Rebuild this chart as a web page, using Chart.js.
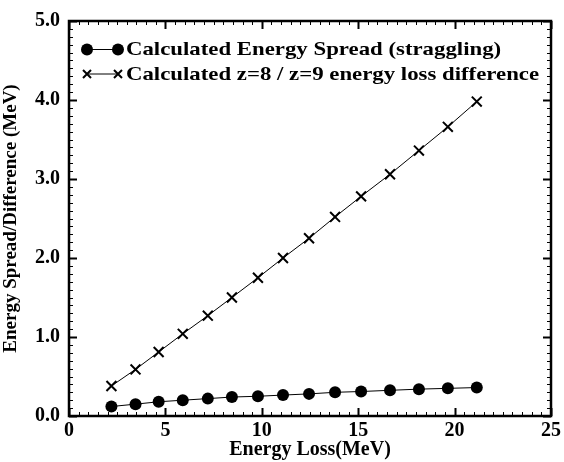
<!DOCTYPE html>
<html>
<head>
<meta charset="utf-8">
<script src="https://cdn.jsdelivr.net/npm/chart.js@4/dist/chart.umd.min.js"></script>
<style>
  html, body { margin: 0; padding: 0; background: #fff; }
  #wrap { width: 564px; height: 462px; }
</style>
</head>
<body>
<div id="wrap"><canvas id="lossCtx"></canvas></div>
<script>
// energy loss (MeV), shared by both series
const energyLoss = [2.2, 3.45, 4.65, 5.9, 7.2, 8.45, 9.8, 11.1, 12.45, 13.8, 15.15, 16.65, 18.15, 19.65, 21.15];
// calculated energy spread (straggling)
const spreadValues = [0.12, 0.15, 0.18, 0.20, 0.22, 0.24, 0.25, 0.265, 0.28, 0.30, 0.31, 0.325, 0.34, 0.35, 0.36];
// calculated z=8 / z=9 energy loss difference
const diffValues = [0.38, 0.59, 0.81, 1.04, 1.27, 1.50, 1.75, 2.00, 2.25, 2.52, 2.78, 3.06, 3.36, 3.66, 3.98];

const xTicks = [0, 5, 10, 15, 20, 25];
const yTicks = [0, 1, 2, 3, 4, 5];

const serif = "'Liberation Serif', 'Times New Roman', serif";

function toPoints(xs, ys) {
    return xs.map((x, i) => ({ x: x, y: ys[i] }));
}

// draws inward ticks on all four sides + the frame
const frameTicks = {
    id: 'frameTicks',
    afterDraw(chart) {
        const ctx = chart.ctx;
        const a = chart.chartArea;
        const xs = chart.scales.x, ys = chart.scales.y;
        ctx.save();
        ctx.strokeStyle = '#000';
        // x minor every 0.5, major every 5
        for (let i = 0; i <= 50; i++) {
            const v = i / 2;
            const px = Math.round(xs.getPixelForValue(v)) + 0.5;
            const major = i % 10 === 0;
            const len = major ? 8 : 4;
            ctx.lineWidth = major ? 2 : 1;
            ctx.beginPath();
            ctx.moveTo(px, a.bottom); ctx.lineTo(px, a.bottom - len);
            ctx.moveTo(px, a.top); ctx.lineTo(px, a.top + len);
            ctx.stroke();
        }
        // y minor every 0.1, major every 1
        for (let i = 0; i <= 50; i++) {
            const v = i / 10;
            const py = Math.round(ys.getPixelForValue(v)) + 0.5;
            const major = i % 10 === 0;
            const len = major ? 8 : 4;
            ctx.lineWidth = major ? 2 : 1;
            ctx.beginPath();
            ctx.moveTo(a.left, py); ctx.lineTo(a.left + len, py);
            ctx.moveTo(a.right, py); ctx.lineTo(a.right - len, py);
            ctx.stroke();
        }
        ctx.lineWidth = 2.5;
        ctx.strokeRect(a.left, a.top, a.right - a.left, a.bottom - a.top);
        ctx.restore();
    }
};

function drawMarker(ctx, style, x, y) {
    ctx.beginPath();
    if (style === 'circle') {
        ctx.arc(x, y, 6, 0, Math.PI * 2);
        ctx.fill();
    } else {
        const r = 4;
        ctx.lineWidth = 2;
        ctx.moveTo(x - r, y - r); ctx.lineTo(x + r, y + r);
        ctx.moveTo(x - r, y + r); ctx.lineTo(x + r, y - r);
        ctx.stroke();
    }
}

// legend inside the plot, top-left (text is a bit wide in the original)
const insideLegend = {
    id: 'insideLegend',
    afterDraw(chart) {
        const ctx = chart.ctx;
        const a = chart.chartArea;
        ctx.save();
        ctx.fillStyle = '#000';
        ctx.strokeStyle = '#000';
        ctx.textBaseline = 'middle';
        chart.data.datasets.forEach((ds, i) => {
            const y = a.top + 28.5 + i * 24.5;
            const x0 = a.left + 18, x1 = a.left + 49;
            ctx.lineWidth = 1;
            ctx.beginPath();
            ctx.moveTo(x0, y); ctx.lineTo(x1, y);
            ctx.stroke();
            drawMarker(ctx, ds.pointStyle, x0, y);
            drawMarker(ctx, ds.pointStyle, x1, y);
            ctx.save();
            ctx.translate(x1 + 8, y + 1);
            ctx.scale(1.2, 1);
            ctx.font = "bold 19px " + serif;
            ctx.fillText(ds.label, 0, 0);
            ctx.restore();
        });
        ctx.restore();
    }
};

var lossChart = new Chart(document.getElementById("lossCtx"), {
    type: "line",
    data: {
        datasets: [{
            label: 'Calculated Energy Spread (straggling)',
            data: toPoints(energyLoss, spreadValues),
            borderColor: '#000',
            backgroundColor: '#000',
            borderWidth: 1,
            pointStyle: 'circle',
            pointRadius: 6,
            pointBorderWidth: 0,
            tension: 0
        }, {
            label: 'Calculated z=8 / z=9 energy loss difference',
            data: toPoints(energyLoss, diffValues),
            borderColor: '#000',
            backgroundColor: '#000',
            borderWidth: 1,
            pointStyle: 'crossRot',
            pointRadius: 7,
            pointBorderWidth: 2,
            tension: 0
        }]
    },
    options: {
        responsive: true,
        maintainAspectRatio: false,
        animation: false,
        layout: { padding: { top: 20, right: 11, left: 0, bottom: 0 } },
        plugins: { legend: { display: false }, tooltip: { enabled: false } },
        scales: {
            x: {
                type: 'linear',
                min: 0, max: 25,
                afterBuildTicks: s => { s.ticks = xTicks.map(v => ({ value: v })); },
                afterFit: s => { s.height = 46; },
                grid: { display: false, drawTicks: false },
                border: { display: false },
                ticks: {
                    color: '#000', padding: 3,
                    font: { family: serif, size: 20, weight: 'bold' },
                    maxRotation: 0
                },
                title: {
                    display: true, text: 'Energy Loss(MeV)', color: '#000',
                    font: { family: serif, size: 20, weight: 'bold' },
                    padding: { top: 0, bottom: 0 }
                }
            },
            y: {
                min: 0, max: 5,
                afterBuildTicks: s => { s.ticks = yTicks.map(v => ({ value: v })); },
                afterFit: s => { s.width = 69; },
                grid: { display: false, drawTicks: false },
                border: { display: false },
                ticks: {
                    color: '#000', padding: 9,
                    font: { family: serif, size: 20, weight: 'bold' },
                    callback: v => v.toFixed(1)
                },
                title: {
                    display: true, text: 'Energy Spread/Difference (MeV)', color: '#000',
                    font: { family: serif, size: 19, weight: 'bold' },
                    padding: { top: 0, bottom: 2 }
                }
            }
        }
    },
    plugins: [frameTicks, insideLegend]
});
</script>
</body>
</html>
